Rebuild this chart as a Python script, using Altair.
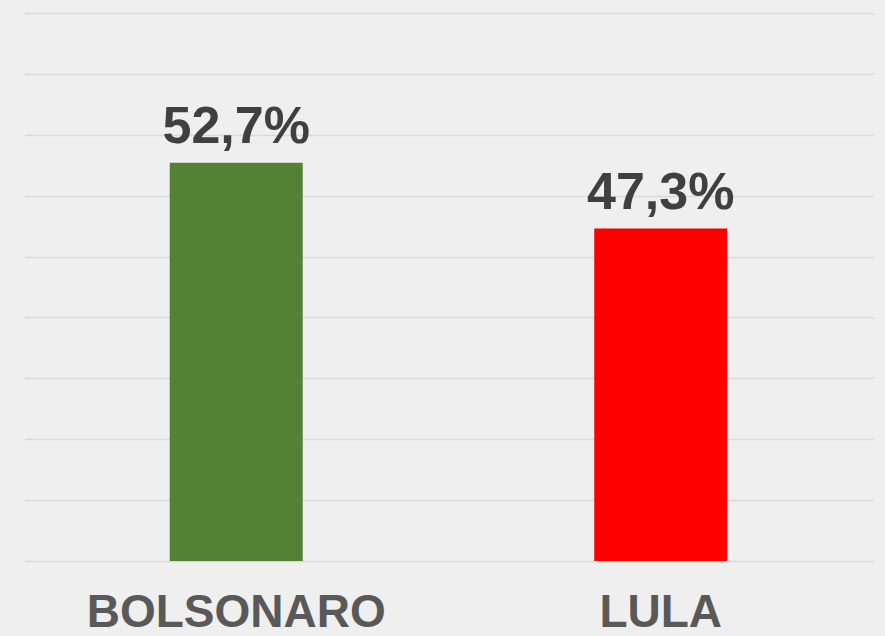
import altair as alt
import pandas as pd

candidates = ["BOLSONARO", "LULA"]
values = [52.7, 47.3]
labels = ["52,7%", "47,3%"]
colors = ["#548235", "#FF0000"]

df = pd.DataFrame({"cand": candidates, "val": values, "lab": labels, "col": colors})

x = alt.X("cand:N", sort=candidates, title=None,
          scale=alt.Scale(paddingInner=0, paddingOuter=0),
          axis=alt.Axis(labelAngle=0, labelFontSize=46, labelFont="Liberation Sans",
                        labelFontWeight="bold", labelColor="#595959", ticks=False,
                        domain=False, labelPadding=29, labelBaseline="top", labelLimit=0))
y = alt.Y("val:Q", title=None,
          scale=alt.Scale(domain=[20, 65], nice=False, zero=False),
          axis=alt.Axis(values=[20, 25, 30, 35, 40, 45, 50, 55, 60, 65], labels=False,
                        ticks=False, domain=False, grid=True, gridColor="#d9d9d9",
                        gridWidth=1.5))

bars = alt.Chart(df).mark_bar(size=133, clip=False).encode(
    x=x, y=y, y2=alt.datum(20),
    color=alt.Color("col:N", scale=None),
)
text = alt.Chart(df).mark_text(font="Liberation Sans", fontWeight="bold", fontSize=52,
                                color="#404040", baseline="alphabetic", dy=-20).encode(
    x=alt.X("cand:N", sort=candidates), y="val:Q", text="lab:N"
)

chart = (bars + text).properties(
    width=849, height=548,
    autosize=alt.AutoSizeParams(type="none"),
    padding={"left": 24, "top": 13, "right": 12, "bottom": 75},
    background="#efefef",
).configure_view(stroke=None)

chart.save("out.html", embed_options={"renderer": "svg", "actions": False})
